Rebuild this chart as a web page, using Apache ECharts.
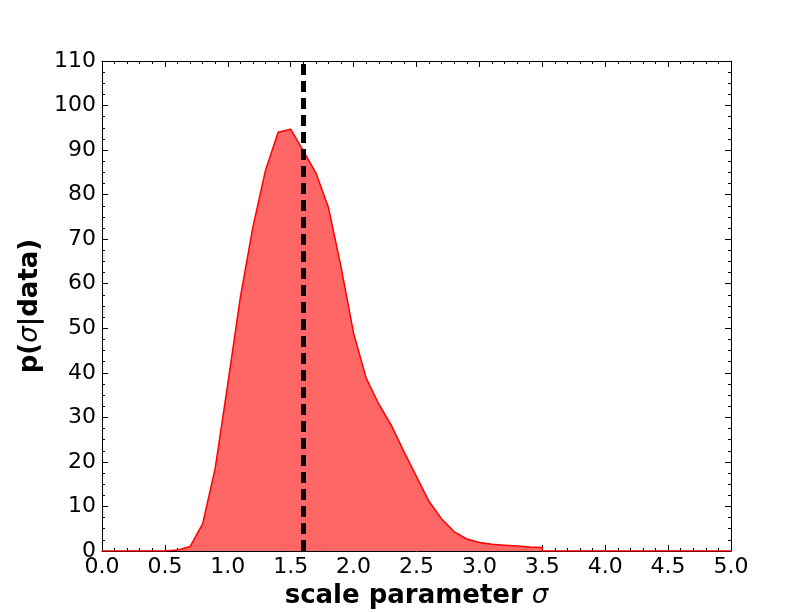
<!DOCTYPE html>
<html>
<head>
<meta charset="utf-8">
<script src="https://cdn.jsdelivr.net/npm/echarts@6/dist/echarts.min.js"></script>
<style>
  html, body { margin: 0; padding: 0; background: #fff; }
  #chart { width: 812px; height: 612px; }
</style>
</head>
<body>
<div id="chart"></div>
<script>
// sigma grid and posterior values
const sigma = [0.0, 0.1, 0.2, 0.3, 0.4, 0.5, 0.6, 0.7, 0.8, 0.9,
  1.0, 1.1, 1.2, 1.3, 1.4, 1.5, 1.6, 1.7, 1.8, 1.9,
  2.0, 2.1, 2.2, 2.3, 2.4, 2.5, 2.6, 2.7, 2.8, 2.9,
  3.0, 3.1, 3.2, 3.3, 3.4, 3.5, 3.5, 3.6, 4.0, 4.5, 5.0]
const posterior = [0, 0, 0, 0, 0, 0, 0.2, 1.0, 6.1, 18.6,
  37.5, 57.0, 72.8, 85.5, 94.0, 94.7, 89.8, 84.9, 77.1, 63.8,
  48.9, 38.8, 33.0, 28.2, 22.3, 16.7, 11.1, 7.2, 4.3, 2.7,
  1.9, 1.5, 1.3, 1.1, 0.9, 0.8, 0, 0, 0, 0, 0]
const sigmaMark = 1.6

const font = 'DejaVu Sans'
let points = sigma.map((s, i) => [s, posterior[i]])

let tickCommon = {
  axisLine: { show: true, onZero: false, lineStyle: { color: '#000', width: 1 } },
  axisTick: { show: true, inside: true, length: 6, lineStyle: { color: '#000' } },
  splitLine: { show: false }
}
let nameStyle = {
  fontFamily: font, fontWeight: 'bold', fontSize: 26, color: '#000',
  rich: { i: { fontFamily: font, fontStyle: 'italic', fontWeight: 'normal', fontSize: 26, color: '#000' } }
}

let mychart = echarts.init(document.getElementById('chart'))
mychart.setOption({
  animation: false,
  grid: { left: 102, right: 81, top: 61, bottom: 61, outerBoundsMode: 'none', containLabel: false },
  xAxis: [
    Object.assign({
      type: 'value', min: 0, max: 5, interval: 0.5,
      name: 'scale parameter {i|σ}',
      nameLocation: 'middle', nameGap: 32,
      nameTextStyle: nameStyle,
      axisLabel: { fontFamily: font, fontSize: 22, color: '#000', margin: 5, formatter: v => v.toFixed(1) },
      minorTick: { show: true, splitNumber: 5, length: 3, lineStyle: { color: '#000' } }
    }, tickCommon),
    Object.assign({
      type: 'value', min: 0, max: 5, interval: 0.5, position: 'top',
      axisLabel: { show: false },
      minorTick: { show: true, splitNumber: 5, length: 3, lineStyle: { color: '#000' } }
    }, tickCommon)
  ],
  yAxis: [
    Object.assign({
      type: 'value', min: 0, max: 110, interval: 10,
      name: 'p({i|σ}|data)',
      nameLocation: 'middle', nameGap: 58, nameRotate: 90,
      nameTextStyle: nameStyle,
      axisLabel: { fontFamily: font, fontSize: 22, color: '#000', margin: 6 },
      minorTick: { show: true, splitNumber: 4, length: 3, lineStyle: { color: '#000' } }
    }, tickCommon),
    Object.assign({
      type: 'value', min: 0, max: 110, interval: 10, position: 'right',
      axisLabel: { show: false },
      minorTick: { show: true, splitNumber: 4, length: 3, lineStyle: { color: '#000' } }
    }, tickCommon)
  ],
  series: [
    {
      type: 'line',
      data: points,
      symbol: 'none',
      lineStyle: { color: '#ff0000', width: 1.5 },
      areaStyle: { color: '#ff6666', opacity: 1, origin: 'start' },
      markLine: {
        silent: true,
        symbol: 'none',
        label: { show: false },
        lineStyle: { color: '#000', width: 5, type: [11, 6] },
        data: [{ xAxis: sigmaMark }]
      },
      z: 3
    }
  ]
})
</script>
</body>
</html>
